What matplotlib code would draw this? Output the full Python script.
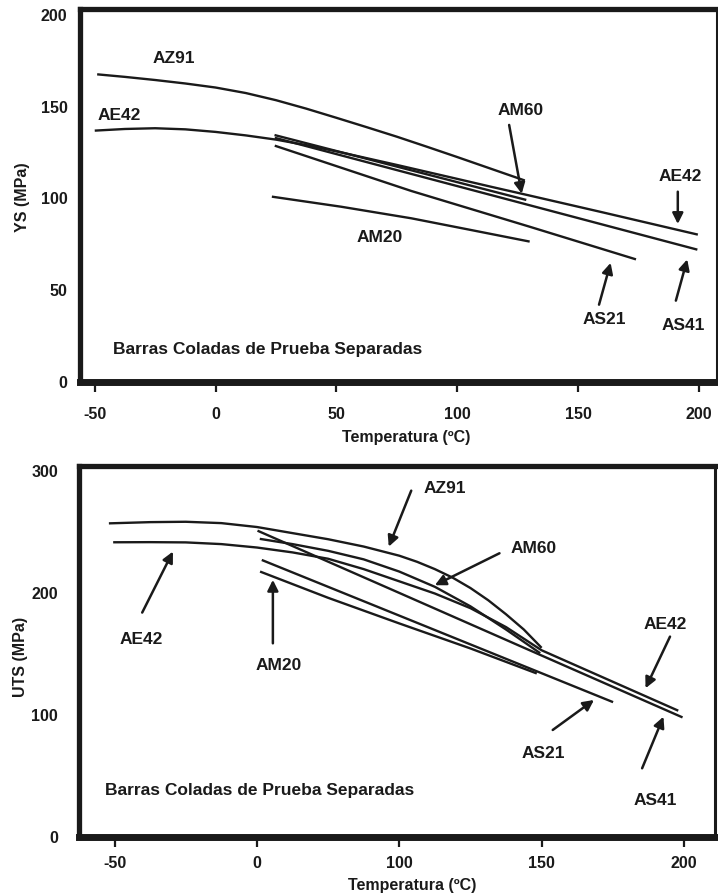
import matplotlib
matplotlib.use('Agg')
import matplotlib.pyplot as plt
import numpy as np

plt.rcParams['font.family'] = ['Liberation Sans', 'DejaVu Sans']
plt.rcParams['font.weight'] = 'bold'

# --- YS (upper panel), temperature in ºC ---
ys_az91_t = [-49, -37.5, -25, -12.5, 0, 12.5, 25, 37.5, 50, 62.5, 75, 87.5, 100, 114, 128]
ys_az91 = [167.6, 166.2, 164.5, 162.6, 160.4, 157.4, 153.5, 148.9, 143.9, 138.8, 133.6,
           128.1, 122.5, 116.1, 109.7]
ys_ae42_t = [-50, -37.5, -25, -12.5, 0, 12.5, 25, 37.5, 50, 62.5, 75, 87.5, 100, 114, 129,
             160, 199.6]
ys_ae42 = [136.9, 137.8, 138.2, 137.6, 136.2, 134.3, 132, 129, 125.6, 121.9, 118.2, 114.4,
           110.6, 106.3, 101.8, 92.4, 80.2]
ys_am60_t = [24.4, 75, 128.6]
ys_am60 = [134.5, 117.3, 99.1]
ys_as41_t = [24.5, 199.4]
ys_as41 = [133, 72]
ys_as21_t = [24.5, 81, 130, 174]
ys_as21 = [128.7, 104, 84.5, 66.7]
ys_am20_t = [23.3, 52, 81, 105, 130]
ys_am20 = [100.9, 95.4, 89.1, 82.9, 76.4]

# --- UTS (lower panel), read against its printed tick labels ---
uts_az91_t = [-52, -37.5, -25, -12.5, 0, 25, 50, 75, 100, 106.25, 112.5, 118.75, 125,
              131.25, 137.5, 143.75, 150]
uts_az91 = [257, 258, 258.3, 257.2, 254, 249, 244, 238, 230.5, 225.5, 219.5, 212.5, 204,
            194, 182.5, 170, 155]
uts_ae42_t = [-50.5, -37.5, -25, -12.5, 0, 25, 50, 75, 100, 112.5, 125, 137.5, 150, 198]
uts_ae42 = [241.5, 241.6, 241.4, 240, 237.2, 233.2, 228, 219.5, 209.5, 199.5, 187.5, 172,
            153, 103.5]
uts_am60_t = [2, 25, 50, 75, 100, 112.5, 125, 137.5, 149.5]
uts_am60 = [244.3, 240, 234.5, 227.5, 217.5, 205, 189, 170, 150.6]
uts_as41_t = [0.4, 100, 150, 199.5]
uts_as41 = [251, 200, 148.7, 98]
uts_as21_t = [3.4, 100, 150, 175.1]
uts_as21 = [227, 181.4, 134.2, 110.5]
uts_am20_t = [2.2, 50, 100, 125, 148.3]
uts_am20 = [217.5, 196, 175, 154.5, 134]

ys_ticks = [-50, 0, 50, 100, 150, 200]
uts_ticks = [-50, 0, 100, 150, 200]  # printed labels, evenly spaced in the original

# annotations: (text, label x, label y, arrow tail, arrow tip)
ys_notes = [
    ('AZ91', -17.3, 176.3, None, None),
    ('AE42', -39.8, 144.9, None, None),
    ('AM60', 126.3, 148.1, (121.5, 140), (126.7, 102.5)),
    ('AE42', 192.5, 111.8, (191.3, 103.6), (191.3, 86)),
    ('AM20', 68, 78.7, None, None),
    ('AS21', 160.8, 34, (158.7, 42), (163.5, 64.8)),
    ('AS41', 193.6, 30.9, (190.5, 44.2), (195.2, 66.7)),
]
uts_notes = [
    ('AZ91', 116.1, 285.8, (104.2, 283.8), (92.6, 237.9)),
    ('AE42', -40.7, 162, (-40.3, 183.9), (-29.5, 233.9)),
    ('AM20', 15.1, 140.2, (11.2, 158.7), (11.2, 210.7)),
    ('AM60', 147.1, 236.6, (135.2, 232.5), (112.5, 206.3)),
    ('AE42', 193.5, 173.8, (195.1, 164.2), (186.5, 121.9)),
    ('AS21', 150.6, 68.6, (153.9, 87.7), (168.4, 112.3)),
    ('AS41', 189.9, 30.3, (185.3, 56.3), (192.8, 98.6)),
]

W, H = 718, 896
fig = plt.figure(figsize=(W / 100, H / 100), dpi=100)

def px_axes(left, top, right, bottom):
    return fig.add_axes([left / W, 1 - bottom / H, (right - left) / W, (bottom - top) / H])

def style_frame(ax, pad):
    for side, lw in [('left', 3.8), ('top', 3.8), ('bottom', 5.0), ('right', 2.2)]:
        ax.spines[side].set_linewidth(lw)
        ax.spines[side].set_color('#1a1a1a')
    ax.tick_params(axis='x', direction='out', length=7, width=1.6, pad=pad,
                   labelsize=11.5, colors='#1a1a1a')
    ax.tick_params(axis='y', length=0, pad=9, labelsize=11.5, colors='#1a1a1a')
    ax.minorticks_off()
    for lab in ax.get_xticklabels() + ax.get_yticklabels():
        lab.set_fontweight('bold')

def draw_notes(ax, notes):
    for txt, lx, ly, tail, tip in notes:
        ax.text(lx, ly, txt, fontsize=12.5, fontweight='bold', ha='center', va='center',
                color='#1a1a1a')
        if tail is not None:
            ax.annotate('', xy=tip, xytext=tail,
                        arrowprops=dict(arrowstyle='-|>', lw=1.8, color='#1a1a1a',
                                        mutation_scale=16, shrinkA=0, shrinkB=0))

line_kw = dict(color='#1a1a1a', lw=1.7, solid_capstyle='butt', solid_joinstyle='round')

# ---------------- upper panel ----------------
ax1 = px_axes(80, 9.4, 716.7, 381.7)
for t, v in [(ys_az91_t, ys_az91), (ys_ae42_t, ys_ae42), (ys_am60_t, ys_am60),
             (ys_as41_t, ys_as41), (ys_as21_t, ys_as21), (ys_am20_t, ys_am20)]:
    ax1.plot(t, v, **line_kw)
ax1.set_xlim(-56.1, 207.4)
ax1.set_ylim(0, 203)
ax1.set_xticks(ys_ticks)
ax1.set_xticklabels([str(v) for v in ys_ticks])
ax1.set_yticks([0, 50, 100, 150, 200])
style_frame(ax1, pad=11)
draw_notes(ax1, ys_notes)
ax1.text(-42.4, 17.3, 'Barras Coladas de Prueba Separadas', fontsize=12.5,
         fontweight='bold', ha='left', va='center', color='#1a1a1a')
fig.text(406 / W, 1 - 437 / H, 'Temperatura (ºC)', fontsize=11.5, fontweight='bold',
         ha='center', va='center', color='#1a1a1a')
fig.text(22 / W, 1 - 197 / H, 'YS (MPa)', fontsize=11.5, fontweight='bold',
         rotation=90, ha='center', va='center', color='#1a1a1a')

# ---------------- lower panel ----------------
# the printed labels -50, 0, 100, 150, 200 sit at equal spacing
brk_t = np.array([-100, -50, 0, 100, 150, 200, 250], dtype=float)
brk_i = np.arange(-1, 6, dtype=float)

def fwd(x):
    return np.interp(x, brk_t, brk_i)

def inv(i):
    return np.interp(i, brk_i, brk_t)

ax2 = px_axes(79, 466, 715, 837)
ax2.set_xscale('function', functions=(fwd, inv))
for t, v in [(uts_az91_t, uts_az91), (uts_ae42_t, uts_ae42), (uts_am60_t, uts_am60),
             (uts_as41_t, uts_as41), (uts_as21_t, uts_as21), (uts_am20_t, uts_am20)]:
    ax2.plot(t, v, **line_kw)
ax2.set_xlim(-62.5, 210.9)
ax2.set_ylim(0, 304)
ax2.set_xticks(uts_ticks)
ax2.set_xticklabels([str(v) for v in uts_ticks])
ax2.set_yticks([0, 100, 200, 300])
style_frame(ax2, pad=7)
ax2.tick_params(axis='y', pad=15)
draw_notes(ax2, uts_notes)
ax2.text(-53.2, 38.5, 'Barras Coladas de Prueba Separadas', fontsize=12.5,
         fontweight='bold', ha='left', va='center', color='#1a1a1a')
fig.text(412 / W, 1 - 885 / H, 'Temperatura (ºC)', fontsize=11.5, fontweight='bold',
         ha='center', va='center', color='#1a1a1a')
fig.text(21 / W, 1 - 657 / H, 'UTS (MPa)', fontsize=11.5, fontweight='bold',
         rotation=90, ha='center', va='center', color='#1a1a1a')

fig.savefig('out.png', dpi=100, facecolor='white')
